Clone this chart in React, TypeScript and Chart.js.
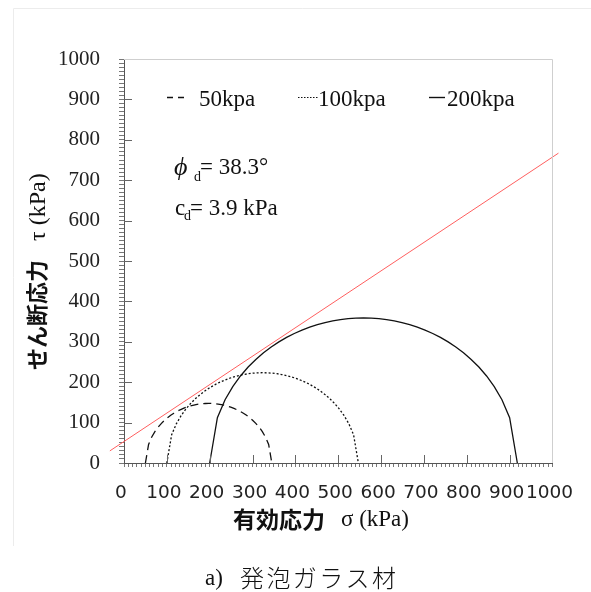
import React, { useEffect, useRef } from "react";
import { Chart, registerables } from "chart.js";

Chart.register(...registerables);

// ---- data ----
const confiningLabels = ["50kpa", "100kpa", "200kpa"];
const sigma3 = [50, 100, 200]; // left end of each Mohr circle (kPa)
const sigma1 = [345, 547, 918]; // right end of each Mohr circle (kPa)
const envelopeSigma = [-33, 1014]; // failure envelope end points (σ)
const envelopeTau = [30, 767]; // failure envelope end points (τ)
const phiValue = "38.3°";
const cValue = "3.9 kPa";
const xTitleJa = "有効応力";
const xTitleSym = "σ (kPa)";
const yTitleJa = "せん断応力";
const yTitleSym = "τ (kPa)";
const captionLead = "a)";
const captionJa = "発泡ガラス材";

const SERIF = "'Liberation Serif', 'Times New Roman', serif";
const CJK = "'Noto Sans CJK JP', sans-serif";

function circlePoints(s3: number, s1: number, n = 40) {
  const c = (s1 + s3) / 2;
  const r = (s1 - s3) / 2;
  const pts: { x: number; y: number }[] = [];
  for (let i = 0; i <= n; i++) {
    const x = s3 + ((s1 - s3) * i) / n;
    const d = r * r - (x - c) * (x - c);
    pts.push({ x, y: Math.sqrt(Math.max(0, d)) });
  }
  return pts;
}

const dashes = [[8, 5], [2, 2], []];

const overlay = {
  id: "overlay",
  beforeDraw(chart: any) {
    const ctx = chart.ctx;
    ctx.save();
    ctx.strokeStyle = "#ececec";
    ctx.lineWidth = 1;
    ctx.beginPath();
    ctx.moveTo(13.5, 546);
    ctx.lineTo(13.5, 8.5);
    ctx.lineTo(591, 8.5);
    ctx.stroke();
    ctx.restore();
  },
  afterDraw(chart: any) {
    const { ctx, chartArea: a } = chart;
    const xs = chart.scales.x;
    const ys = chart.scales.y;
    ctx.save();
    // frame top/right
    ctx.strokeStyle = "#cfcfcf";
    ctx.lineWidth = 1;
    ctx.beginPath();
    ctx.moveTo(a.left, Math.round(a.top) + 0.5);
    ctx.lineTo(Math.round(a.right) + 0.5, Math.round(a.top) + 0.5);
    ctx.lineTo(Math.round(a.right) + 0.5, a.bottom);
    ctx.stroke();
    // major inner ticks
    ctx.strokeStyle = "#666";
    ctx.beginPath();
    for (let v = 100; v < 1000; v += 100) {
      const px = Math.round(xs.getPixelForValue(v)) + 0.5;
      ctx.moveTo(px, a.bottom);
      ctx.lineTo(px, a.bottom - 8);
      const py = Math.round(ys.getPixelForValue(v)) + 0.5;
      ctx.moveTo(a.left, py);
      ctx.lineTo(a.left + 8, py);
    }
    ctx.stroke();

    // legend
    ctx.fillStyle = "#111";
    ctx.strokeStyle = "#111";
    ctx.textBaseline = "alphabetic";
    ctx.textAlign = "left";
    ctx.font = `23px ${SERIF}`;
    const lx = [167, 298, 429];
    const lw = [17, 20, 16];
    const tx = [199, 318, 447];
    for (let i = 0; i < 3; i++) {
      ctx.beginPath();
      ctx.setLineDash(i === 0 ? [6, 5] : i === 1 ? [1.5, 1.5] : []);
      ctx.lineWidth = i === 1 ? 1 : 1.4;
      ctx.moveTo(lx[i], 97.5);
      ctx.lineTo(lx[i] + lw[i], 97.5);
      ctx.stroke();
      ctx.fillText(confiningLabels[i], tx[i], 106);
    }
    ctx.setLineDash([]);

    // strength parameters
    ctx.font = `italic 26px ${SERIF}`;
    ctx.fillText("ϕ", 174, 175);
    ctx.font = `14px ${SERIF}`;
    ctx.fillText("d", 194, 181);
    ctx.font = `23px ${SERIF}`;
    ctx.fillText("= " + phiValue, 200, 174);
    ctx.fillText("c", 175, 215);
    ctx.font = `14px ${SERIF}`;
    ctx.fillText("d", 184, 220);
    ctx.font = `23px ${SERIF}`;
    ctx.fillText("= " + cValue, 190, 215);

    // x axis title
    ctx.font = `bold 23px ${CJK}`;
    ctx.textBaseline = "middle";
    ctx.fillText(xTitleJa, 233, 519);
    ctx.textBaseline = "alphabetic";
    ctx.font = `23px ${SERIF}`;
    ctx.fillText(xTitleSym, 341, 526);

    // y axis title (rotated)
    ctx.save();
    ctx.translate(37, 370);
    ctx.rotate(-Math.PI / 2);
    ctx.font = `bold 22px ${CJK}`;
    ctx.textBaseline = "middle";
    ctx.fillText(yTitleJa, 0, 0);
    ctx.textBaseline = "alphabetic";
    ctx.font = `24px ${SERIF}`;
    ctx.fillText(yTitleSym, 129, 8);
    ctx.restore();

    // caption
    ctx.font = `23px ${SERIF}`;
    ctx.fillText(captionLead, 205, 585);
    ctx.font = `300 24px ${CJK}`;
    ctx.textBaseline = "middle";
    const chars = Array.from(captionJa);
    chars.forEach((ch, i) => ctx.fillText(ch, 240 + i * 26.4, 578));
    ctx.restore();
  },
};

export default function App() {
  const ref = useRef<HTMLCanvasElement | null>(null);
  useEffect(() => {
    if (!ref.current) return;
    const datasets: any[] = [
      {
        label: "envelope",
        data: envelopeSigma.map((s, i) => ({ x: s, y: envelopeTau[i] })),
        borderColor: "rgb(255,95,95)",
        borderWidth: 1,
        pointRadius: 0,
        clip: false,
        tension: 0,
      },
    ];
    sigma3.forEach((s3, i) => {
      datasets.push({
        label: confiningLabels[i],
        data: circlePoints(s3, sigma1[i]),
        borderColor: "#111",
        borderWidth: 1.3,
        borderDash: dashes[i],
        pointRadius: 0,
        tension: 0,
        clip: false,
      });
    });
    const chart = new Chart(ref.current, {
      type: "line",
      data: { datasets },
      options: {
        animation: false,
        responsive: false,
        devicePixelRatio: 1,
        parsing: false,
        layout: { padding: { left: 14, right: 37, top: 59, bottom: 69 } },
        plugins: { legend: { display: false }, tooltip: { enabled: false } },
        scales: {
          x: {
            type: "linear",
            min: 0,
            max: 1000,
            afterFit: (s: any) => {
              s.height = 60;
            },
            ticks: {
              stepSize: 10,
              autoSkip: false,
              maxRotation: 0,
              minRotation: 0,
              padding: 15,
              labelOffset: -3,
              color: "#222",
              font: { family: "'DejaVu Sans', sans-serif", size: 18.5 },
              callback: (v: any) => (Math.round(v) % 100 === 0 ? String(Math.round(v)) : ""),
            },
            grid: { drawOnChartArea: false, drawTicks: true, tickLength: 4, color: "#777", tickColor: "#777" },
            border: { color: "#555", width: 1 },
          },
          y: {
            type: "linear",
            min: 0,
            max: 1000,
            afterFit: (s: any) => {
              s.width = 110;
            },
            ticks: {
              stepSize: 10,
              autoSkip: false,
              padding: 19,
              color: "#222",
              font: { family: SERIF, size: 21 },
              callback: (v: any) => (Math.round(v) % 100 === 0 ? String(Math.round(v)) : ""),
            },
            grid: { drawOnChartArea: false, drawTicks: true, tickLength: 5, color: "#777", tickColor: "#777" },
            border: { color: "#555", width: 1 },
          },
        },
      },
      plugins: [overlay],
    } as any);
    return () => chart.destroy();
  }, []);
  return (
    <div style={{ position: "fixed", left: 0, top: 0, width: 591, height: 592, background: "#fff" }}>
      <canvas ref={ref} width={591} height={592} style={{ display: "block" }} />
    </div>
  );
}
